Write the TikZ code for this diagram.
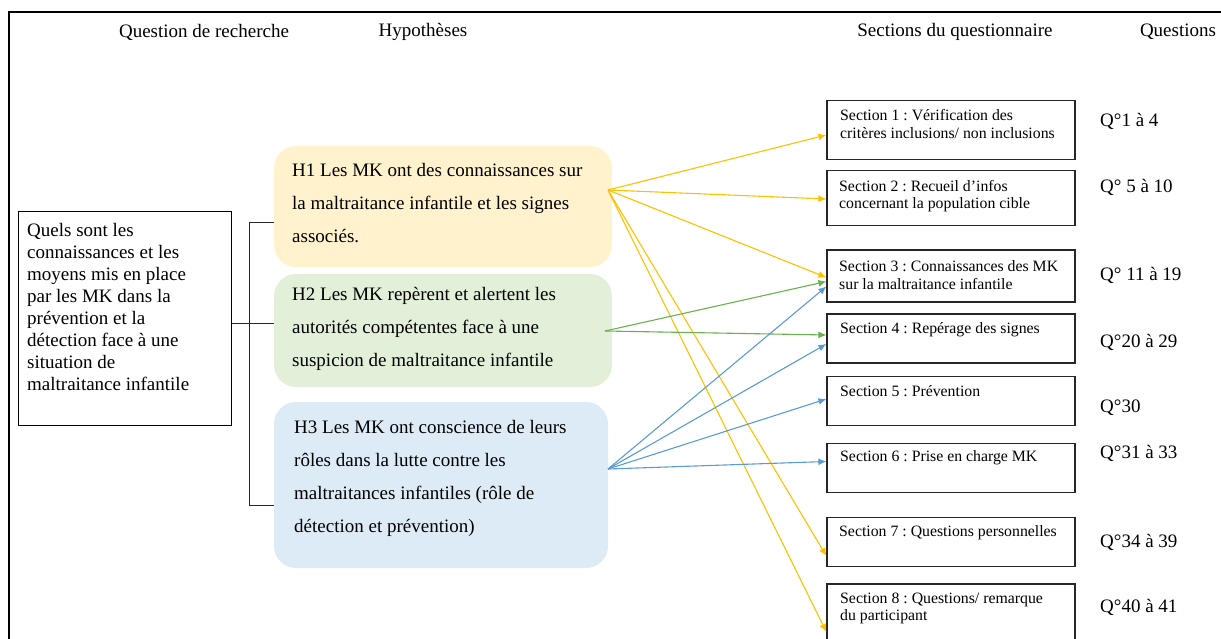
\documentclass[tikz,border=0pt]{standalone}
\usepackage{fontspec}
\setmainfont{Liberation Serif}
\usetikzlibrary{arrows.meta}
\definecolor{hyel}{HTML}{FFF2CC}
\definecolor{hgrn}{HTML}{E2F0D9}
\definecolor{hblu}{HTML}{DDEBF7}
\definecolor{ayel}{HTML}{FFC000}
\definecolor{agrn}{HTML}{6AB04C}
\definecolor{ablu}{HTML}{5B9BD5}
\frenchspacing
\begin{document}
\begin{tikzpicture}[x=1pt,y=-1pt,
  hdr/.style={font=\fontsize{19}{22}\selectfont, inner sep=0pt},
  qtext/.style={font=\fontsize{19}{22}\selectfont, inner sep=0pt, align=left, anchor=west},
  htext/.style={font=\fontsize{19}{33}\selectfont, inner sep=0pt, align=left, anchor=west},
  stext/.style={font=\fontsize{15.8}{17.5}\selectfont, inner sep=0pt, align=left, anchor=west},
  hbox/.style={rounded corners=22pt, minimum width=338pt, inner sep=0pt},
  sbox/.style={draw=black!85, line width=1.2pt, minimum width=248pt, inner sep=0pt},
  qbox/.style={draw=black, line width=1pt, inner sep=0pt},
  bracket/.style={draw=black!85, line width=0.9pt},
  arr/.style={line width=1.1pt, -{Latex[length=8pt,width=7pt]}},
]
\useasboundingbox (0,0) rectangle (1221,639);
\clip (0,0) rectangle (1221,639);
% outer frame
\draw[line width=1.6pt] (9,660) -- (9,12) -- (1240,12);

% headers
\node[hdr] (hq) at (204,32) {Question de recherche};
\node[hdr] (hh) at (423,32) {Hypothèses};
\node[hdr] (hs) at (955,32) {Sections du questionnaire};
\node[hdr] (hqq) at (1178,32) {Questions};

% research question
\node[qbox, minimum width=213pt, minimum height=213pt] (q) at (124.5,318.5) {};
\node[qtext] (qt) at (27,307) {Quels sont les\\connaissances et les\\moyens mis en place\\par les MK dans la\\prévention et la\\détection face à une\\situation de\\maltraitance infantile};

% hypotheses
\node[hbox, fill=hyel, minimum height=121pt] (h1) at (443,206.5) {};
\node[hbox, fill=hgrn, minimum height=113pt] (h2) at (443,330.5) {};
\node[hbox, fill=hblu, minimum width=334pt, minimum height=166pt] (h3) at (441,485) {};
\node[htext] (h1t) at (292,203) {H1 Les MK ont des connaissances sur\\la maltraitance infantile et les signes\\associés.};
\node[htext] (h2t) at (292,329) {H2 Les MK repèrent et alertent les\\autorités compétentes face à une\\suspicion de maltraitance infantile};
\node[htext] (h3t) at (294,478) {H3 Les MK ont conscience de leurs\\rôles dans la lutte contre les\\maltraitances infantiles (rôle de\\détection et prévention)};

% bracket
\coordinate (b1) at (249,222);
\coordinate (b2) at (249,323);
\coordinate (b3) at (249,505);
\draw[bracket] (q.east |- b2) -- (b2);
\draw[bracket] (h1.west |- b1) -- (b1) -- (b3) -- (h3.west |- b3);
\draw[bracket] (b2) -- (h2.west |- b2);

% sections
\node[sbox, minimum height=59pt] (s1) at (951,130) {};
\node[sbox, minimum height=55pt] (s2) at (951,198) {};
\node[sbox, minimum height=52pt] (s3) at (951,276) {};
\node[sbox, minimum height=49pt] (s4) at (951,338.5) {};
\node[sbox, minimum height=49pt] (s5) at (951,401) {};
\node[sbox, minimum height=49pt] (s6) at (951,468) {};
\node[sbox, minimum height=49pt] (s7) at (951,542) {};
\node[sbox, minimum height=66pt] (s8) at (951,617) {};

\node[stext] (s1t) at (840,124) {Section 1 : Vérification des\\critères inclusions/ non inclusions};
\node[stext] (s2t) at (839,196) {Section 2 : Recueil d’infos\\concernant la population cible};
\node[stext] (s3t) at (839,275) {Section 3 : Connaissances des MK\\sur la maltraitance infantile};
\node[stext] (s4t) at (840,330) {Section 4 : Repérage des signes};
\node[stext] (s5t) at (840,391) {Section 5 : Prévention};
\node[stext] (s6t) at (840,458) {Section 6 : Prise en charge MK};
\node[stext] (s7t) at (839,533) {Section 7 : Questions personnelles};
\node[stext] (s8t) at (840,608.5) {Section 8 : Questions/ remarque\\du participant};

% question numbers
\node[qtext] (q1) at (1100,121) {Q°1 à 4};
\node[qtext] (q2) at (1100,187) {Q° 5 à 10};
\node[qtext] (q3) at (1100,275) {Q° 11 à 19};
\node[qtext] (q4) at (1100,342) {Q°20 à 29};
\node[qtext] (q5) at (1100,408) {Q°30};
\node[qtext] (q6) at (1100,453) {Q°31 à 33};
\node[qtext] (q7) at (1100,542) {Q°34 à 39};
\node[qtext] (q8) at (1100,607) {Q°40 à 41};

% arrow origins
\coordinate (o1) at (608,190);
\coordinate (o2) at (605,331);
\coordinate (o3) at (608,469);

% yellow arrows
\draw[arr, ayel] (o1) -- ([yshift=-5pt]s1.west);
\draw[arr, ayel] (o1) -- ([yshift=-1pt]s2.west);
\draw[arr, ayel] (o1) -- ([yshift=-1.5pt]s3.west);
\draw[arr, ayel] (o1) -- ([yshift=-14pt]s7.west);
\draw[arr, ayel] (o1) -- ([yshift=-15pt]s8.west);
% green arrows
\draw[arr, agrn] (o2) -- ([yshift=-5.5pt]s3.west);
\draw[arr, agrn] (o2) -- ([yshift=3.5pt]s4.west);
% blue arrows
\draw[arr, ablu] (o3) -- ([yshift=-10.5pt]s3.west);
\draw[arr, ablu] (o3) -- ([yshift=-5.5pt]s4.west);
\draw[arr, ablu] (o3) -- ([yshift=2pt]s5.west);
\draw[arr, ablu] (o3) -- ([yshift=6.5pt]s6.west);
\end{tikzpicture}
\end{document}
